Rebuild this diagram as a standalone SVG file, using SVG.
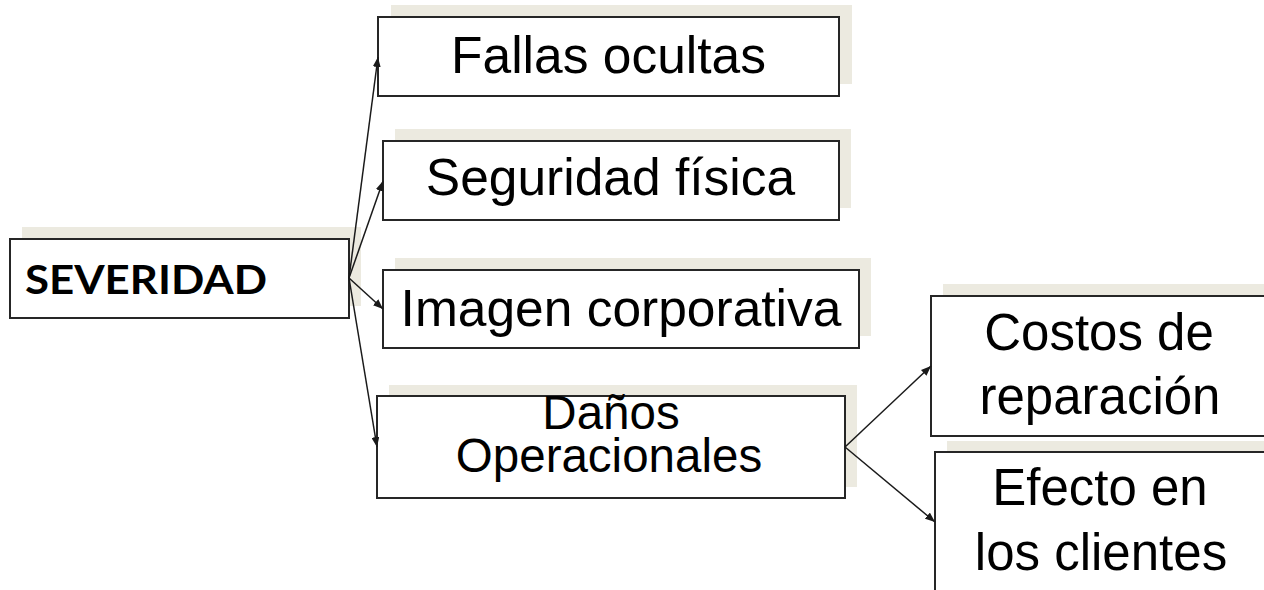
<svg xmlns="http://www.w3.org/2000/svg" width="1264" height="590" viewBox="0 0 1264 590">
<style>
.shadow{fill:#ECEAE0;stroke:none}
.box{fill:#ffffff;stroke:#262626;stroke-width:2}
.t{font-family:"Liberation Sans",Arial,sans-serif;font-size:51.5px;fill:#000;text-anchor:middle}
.tb{font-family:Lato,"Open Sans",sans-serif;font-weight:bold;font-size:40px;fill:#000}
.conn{stroke:#1a1a1a;stroke-width:1.5;fill:none;marker-end:url(#arr)}
</style>
<defs>
<marker id="arr" markerUnits="userSpaceOnUse" markerWidth="10" markerHeight="8" refX="10" refY="4" orient="auto">
<path d="M0,0 L10,4 L0,8 z" fill="#1a1a1a"/>
</marker>
</defs>
<rect width="1264" height="590" fill="#ffffff"/>

<g id="severidad">
<rect class="shadow" x="22" y="227" width="339" height="79"/>
<rect class="box" x="10" y="239" width="339" height="79"/>
<text class="tb" x="25" y="294" textLength="242" lengthAdjust="spacingAndGlyphs">SEVERIDAD</text>
</g>

<g id="fallas">
<rect class="shadow" x="391" y="5" width="461" height="79"/>
<rect class="box" x="378" y="17" width="461" height="79"/>
<text class="t" x="608.5" y="73">Fallas ocultas</text>
</g>

<g id="seguridad">
<rect class="shadow" x="395" y="129" width="456" height="79"/>
<rect class="box" x="383" y="141" width="456" height="79"/>
<text class="t" x="610.5" y="195">Seguridad física</text>
</g>

<g id="imagen">
<rect class="shadow" x="395" y="258" width="476" height="78"/>
<rect class="box" x="383" y="270" width="476" height="78"/>
<text class="t" x="621" y="326">Imagen corporativa</text>
</g>

<g id="danos">
<rect class="shadow" x="389" y="385" width="468" height="102"/>
<rect class="box" x="377" y="396" width="468" height="102"/>
<text class="t" style="font-size:47.5px" x="611" y="429">Daños</text>
<text class="t" style="font-size:47.5px" x="609" y="472">Operacionales</text>
</g>

<g id="costos">
<rect class="shadow" x="943" y="284" width="340" height="140"/>
<rect class="box" x="931" y="296" width="340" height="140"/>
<text class="t" style="font-size:51px" x="1099" y="350">Costos de</text>
<text class="t" style="font-size:51px" x="1100" y="414">reparación</text>
</g>

<g id="efecto">
<rect class="shadow" x="947" y="441" width="340" height="160"/>
<rect class="box" x="935" y="452" width="340" height="160"/>
<text class="t" style="font-size:51px" x="1100" y="505">Efecto en</text>
<text class="t" style="font-size:51px" x="1101" y="570">los clientes</text>
</g>

<g id="connectors">
<line class="conn" x1="349" y1="278" x2="378" y2="57"/>
<line class="conn" x1="349" y1="278" x2="383" y2="181"/>
<line class="conn" x1="349" y1="278" x2="383" y2="309"/>
<line class="conn" x1="349" y1="278" x2="377" y2="447"/>
<line class="conn" x1="845" y1="447" x2="931" y2="366"/>
<line class="conn" x1="845" y1="447" x2="935" y2="522"/>
</g>
</svg>
